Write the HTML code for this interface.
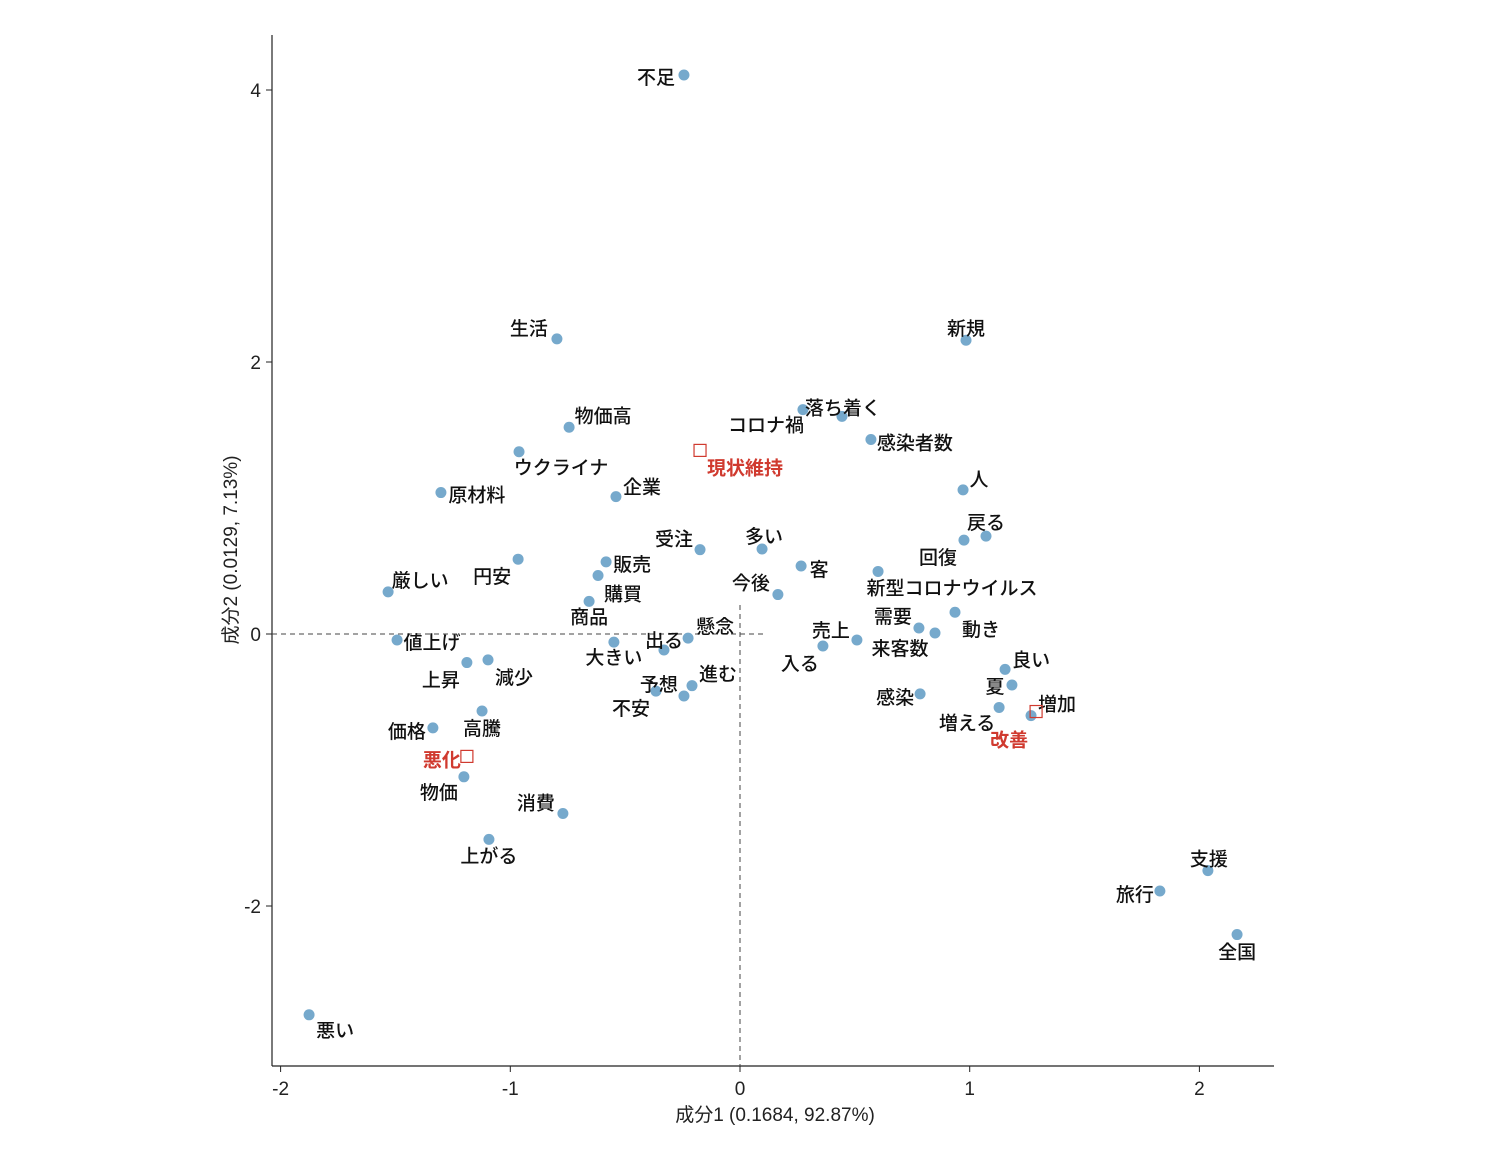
<!DOCTYPE html>
<html><head><meta charset="utf-8">
<style>
html,body{margin:0;padding:0;background:#fff;}
svg{display:block;font-family:"Liberation Sans","Noto Sans CJK JP",sans-serif;}
.lbl{font-size:19px;fill:#111;font-weight:500;}
.red{fill:#d03a2f;font-weight:600;}
.tick{font-size:19px;fill:#222;}
</style></head>
<body>
<svg id="chart" width="1499" height="1167" viewBox="0 0 1499 1167" xmlns="http://www.w3.org/2000/svg"></svg>
<script>
const words = ["不足","生活","新規","落ち着く","コロナ禍","感染者数","物価高","ウクライナ","人","原材料","企業","戻る","回復","受注","多い","円安","販売","客","新型コロナウイルス","購買","今後","厳しい","商品","動き","需要","来客数","懸念","売上","値上げ","出る","大きい","入る","減少","上昇","良い","夏","予想","進む","感染","不安","増加","増える","高騰","価格","物価","消費","上がる","支援","旅行","全国","悪い"];
const xVals = [-0.244,-0.797,0.984,0.274,0.444,0.570,-0.744,-0.962,0.971,-1.302,-0.540,1.071,0.975,-0.174,0.096,-0.966,-0.583,0.266,0.601,-0.618,0.165,-1.532,-0.657,0.936,0.779,0.849,-0.226,0.509,-1.493,-0.331,-0.549,0.361,-1.097,-1.189,1.154,1.184,-0.366,-0.209,0.784,-0.244,1.267,1.128,-1.123,-1.337,-1.202,-0.771,-1.093,2.037,1.828,2.164,-1.876];
const yVals = [4.11,2.17,2.16,1.65,1.60,1.43,1.52,1.34,1.06,1.04,1.01,0.72,0.69,0.62,0.625,0.55,0.53,0.50,0.46,0.43,0.29,0.31,0.24,0.16,0.044,0.007,-0.03,-0.044,-0.044,-0.118,-0.06,-0.088,-0.19,-0.21,-0.26,-0.375,-0.42,-0.38,-0.44,-0.456,-0.60,-0.54,-0.566,-0.69,-1.05,-1.32,-1.51,-1.74,-1.89,-2.21,-2.80];
const groups = ["現状維持","改善","悪化"];
const groupX = [-0.174,1.289,-1.189];
const groupY = [1.35,-0.57,-0.90];
const xTicks = [-2,-1,0,1,2];
const yTicks = [-2,0,2,4];
// label offsets (layout, px)
const wordOff = [[-28,8],[-28,-5],[0,-6],[40,4],[-76,14],[44,9],[34,-6],[42,21],[16,-5],[36,8],[26,-4],[0,-8],[-26,23],[-26,-5],[2,-7],[-26,23],[26,8],[18,9],[74,22],[25,24],[-27,-6],[32,-6],[0,21],[26,23],[-26,-6],[-35,21],[27,-6],[-26,-4],[35,8],[0,-4],[0,21],[-23,23],[26,23],[-26,23],[26,-4],[-17,7],[3,-1],[26,-6],[-25,9],[-53,18],[26,-6],[-32,21],[0,23],[-26,9],[-25,21],[-27,-5],[0,22],[1,-6],[-25,9],[0,23],[26,21]];
const groupOff = [[45,23],[-27,34],[-25,9]];
const SX = 229.7, X0 = 740, SY = 136, Y0 = 634;
const xs = v => X0 + v*SX, ys = v => Y0 - v*SY;
const svg = document.getElementById('chart');
const NS = "http://www.w3.org/2000/svg";
function mk(tag, attrs){const e=document.createElementNS(NS,tag);for(const k in attrs)e.setAttribute(k,attrs[k]);svg.appendChild(e);return e;}
let e;
e=mk('line',{x1:272,y1:35,x2:272,y2:1066,stroke:'#222','stroke-width':1.2});


e=mk('line',{x1:272,y1:1066,x2:1274,y2:1066,stroke:'#222','stroke-width':1.2});


e=mk('line',{x1:272,y1:ys(0),x2:765,y2:ys(0),stroke:'#444','stroke-dasharray':'5,4','stroke-width':1});


e=mk('line',{x1:xs(0),y1:605,x2:xs(0),y2:1066,stroke:'#444','stroke-dasharray':'5,4','stroke-width':1});


xTicks.forEach(t=>{
  mk('line',{x1:xs(t),y1:1066,x2:xs(t),y2:1072,stroke:'#222'});
  const tx=mk('text',{x:xs(t),y:1095,'text-anchor':'middle',class:'tick'});tx.textContent=t;
  
  
});
yTicks.forEach(t=>{
  mk('line',{x1:266,y1:ys(t),x2:272,y2:ys(t),stroke:'#222'});
  const tx=mk('text',{x:261,y:ys(t)+7,'text-anchor':'end',class:'tick'});tx.textContent=t;
  
  
});
e=mk('text',{x:775,y:1121,'text-anchor':'middle',class:'tick'});e.textContent='成分1 (0.1684, 92.87%)';


e=mk('text',{x:0,y:0,'text-anchor':'middle',class:'tick',transform:'translate(237,550) rotate(-90)'});e.textContent='成分2 (0.0129, 7.13%)';


words.forEach((w,i)=>{
  const c=mk('circle',{cx:xs(xVals[i]),cy:ys(yVals[i]),r:5.5,fill:'#76a9cc'});
  
  
});
words.forEach((w,i)=>{
  const t=mk('text',{x:xs(xVals[i])+wordOff[i][0],y:ys(yVals[i])+wordOff[i][1]+1,'text-anchor':'middle',class:'lbl'});
  t.textContent=w;
  
  
});
groups.forEach((g,i)=>{
  const r=mk('rect',{x:xs(groupX[i])-6,y:ys(groupY[i])-6,width:12,height:12,fill:'none',stroke:'#d03a2f','stroke-width':1.2});
  
  
  const t=mk('text',{x:xs(groupX[i])+groupOff[i][0],y:ys(groupY[i])+groupOff[i][1]+1,'text-anchor':'middle',class:'lbl red'});
  t.textContent=g;
  
  
});
</script>
</body></html>
